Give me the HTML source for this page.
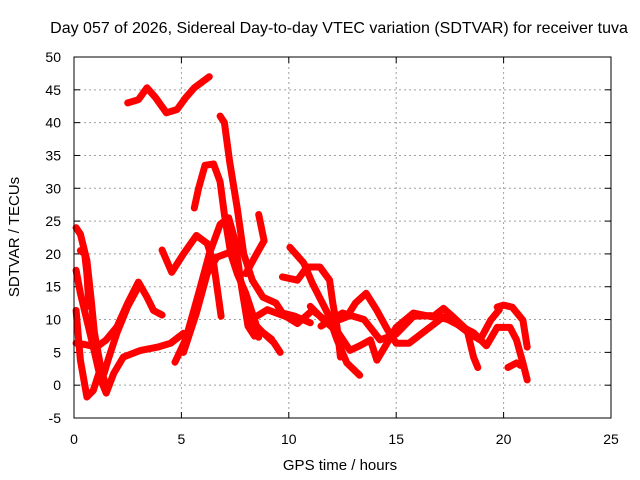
<!DOCTYPE html>
<html><head><meta charset="utf-8"><style>
html,body{margin:0;padding:0;background:#fff}
svg{display:block}
text{font-family:"Liberation Sans",sans-serif;font-size:14px;fill:#000}
</style></head><body>
<svg id="chart" width="640" height="480" viewBox="0 0 640 480">
<rect x="0" y="0" width="640" height="480" fill="#fff"/>
<text x="339" y="33" text-anchor="middle" style="font-size:16px">Day 057 of 2026, Sidereal Day-to-day VTEC variation (SDTVAR) for receiver tuva</text>
<text x="340" y="470" text-anchor="middle" style="font-size:15px">GPS time / hours</text>
<text x="0" y="0" text-anchor="middle" style="font-size:15px" transform="translate(19,237) rotate(-90)">SDTVAR / TECUs</text>
<g id="grid"></g>
<g id="axes"></g>
<g id="series"></g>
<rect x="74" y="57" width="537" height="361" fill="none" stroke="#000" stroke-width="1"/>
</svg>
<script>
const xTicks = [0, 5, 10, 15, 20, 25];
const yTicks = [-5, 0, 5, 10, 15, 20, 25, 30, 35, 40, 45, 50];
const track1 = [[2.5,43],[3.0,43.5],[3.4,45.3],[3.8,43.8],[4.3,41.5],[4.8,42],[5.2,43.8],[5.6,45.3],[6.3,47]];
const track2 = [[6.8,41],[7.0,40],[7.25,34],[7.6,27],[7.9,20],[8.3,16],[8.8,13.4],[9.4,12.5],[9.7,11],[10.3,10.5],[11,9.5]];
const track3 = [[5.6,27],[5.8,30],[6.1,33.5],[6.5,33.7],[6.8,31],[7.0,26],[7.3,20],[7.6,17],[8.0,14],[8.5,9],[8.8,8],[9.3,6.5],[9.6,5]];
const track4 = [[4.7,3.5],[5.2,7],[5.8,14],[6.3,20],[6.8,24.5],[7.2,25.5],[7.5,22],[7.8,15],[8.1,9],[8.4,7.5],[8.8,8],[9.2,7]];
const track5 = [[5.1,5],[5.7,11],[6.2,17],[6.65,19.5],[7.3,20.3],[7.8,15.5],[8.4,7.9],[8.6,7.3]];
const track6 = [[8.0,17],[8.5,20],[8.85,22],[8.6,26]];
const track7 = [[4.1,20.6],[4.55,17.2],[5.1,20],[5.7,22.8],[6.2,21.6],[6.5,18.6],[6.7,14],[6.85,10.5]];
const track8 = [[5.1,7.9],[4.5,6.4],[3.9,5.8],[3.1,5.3],[2.3,4.3],[1.85,1.8],[1.5,-1.2],[1.25,0.8],[0.9,5.8],[0.3,14],[0.1,17.5]];
const track9 = [[4.1,10.7],[3.7,11.4],[3.4,13.4],[3.0,15.7],[2.5,12.5],[2.0,8.9],[1.5,6.9],[1.05,5.8],[0.5,6.2],[0.1,6.4]];
const track10 = [[3.0,15],[2.5,12],[2.0,8],[1.6,4],[1.4,1.8]];
const track11 = [[0.1,24],[0.3,23],[0.6,19],[0.8,13],[0.95,8],[1.25,2.7],[1.5,-0.3]];
const track12 = [[0.1,11.4],[0.3,3.8],[0.6,-1.8],[0.9,-0.8],[1.25,2.7]];
const track13 = [[0.3,20.5],[0.5,20],[0.6,17],[0.7,12]];
const track14 = [[10.05,21],[10.7,18.6],[11.1,15.5],[11.8,11],[12.25,6.9],[12.7,3.4],[13.3,1.5]];
const track15 = [[9.7,16.5],[10.4,16],[10.85,18],[11.45,18],[11.9,16],[12.05,12.5],[12.25,8.8],[12.4,4.3]];
const track16 = [[8.5,10.5],[9.0,11.5],[9.9,10.4],[10.4,9.4],[11.1,11.4],[11.9,9.4],[12.7,10.4],[13.1,12.5],[13.6,14],[14.1,11.4],[14.6,8.4],[15.0,6.4],[15.6,6.4],[16.4,8.4],[17.2,10.4],[17.8,9.4],[18.4,7.9],[18.9,6.9],[19.4,9.9],[19.8,11.5]];
const track17 = [[11.0,12],[11.6,10],[12.3,8],[12.85,5.3],[13.3,6],[13.8,6.9],[14.1,3.8],[14.5,6],[15.0,8.8],[15.8,11],[16.7,10.4],[17.2,11.7],[17.65,10.4],[18.3,8.4],[18.6,4.3],[18.8,2.7]];
const track18 = [[11.5,9],[12.5,11],[13.5,10],[14.25,6.9],[15.0,7.8],[15.8,10.5],[16.6,10.6],[17.4,10],[18.0,9],[18.6,8],[19.2,6],[19.7,8.8]];
const track19 = [[19.7,11.9],[20.0,12.2],[20.4,11.9],[20.9,9.9],[21.1,5.8]];
const track20 = [[19.7,8.8],[20.3,8.8],[20.6,6.9],[20.9,3.4],[21.1,0.8]];
const track21 = [[20.2,2.7],[20.6,3.4],[20.8,3]];
const tracks = [track1,track2,track3,track4,track5,track6,track7,track8,track9,track10,track11,track12,track13,track14,track15,track16,track17,track18,track19,track20,track21];

const NS = "http://www.w3.org/2000/svg";
const X0 = 74, X1 = 611, Y0 = 418, Y1 = 57;
function xs(h){ return X0 + (h - 0) / 25 * (X1 - X0); }
function ys(v){ return Y0 - (v + 5) / 55 * (Y0 - Y1); }
const grid = document.getElementById('grid');
const axes = document.getElementById('axes');
const series = document.getElementById('series');

xTicks.forEach(t => {
  const x = xs(t);
  if (t > 0 && t < 25) {
    const g = document.createElementNS(NS, 'line');
    g.setAttribute('x1', x); g.setAttribute('x2', x); g.setAttribute('y1', Y1); g.setAttribute('y2', Y0);
    g.setAttribute('stroke', '#a0a0a0'); g.setAttribute('stroke-dasharray', '2,3');
    
    
    grid.appendChild(g);
  }
  [[Y0, Y0 - 6], [Y1, Y1 + 6]].forEach(p => {
    const tk = document.createElementNS(NS, 'line');
    tk.setAttribute('x1', x); tk.setAttribute('x2', x); tk.setAttribute('y1', p[0]); tk.setAttribute('y2', p[1]);
    tk.setAttribute('stroke', '#000');
    
    
    axes.appendChild(tk);
  });
  const lb = document.createElementNS(NS, 'text');
  lb.setAttribute('x', x); lb.setAttribute('y', Y0 + 26); lb.setAttribute('text-anchor', 'middle');
  lb.textContent = t;
  
  
  axes.appendChild(lb);
});
yTicks.forEach(t => {
  const y = ys(t);
  if (t > -5 && t < 50) {
    const g = document.createElementNS(NS, 'line');
    g.setAttribute('x1', X0); g.setAttribute('x2', X1); g.setAttribute('y1', y); g.setAttribute('y2', y);
    g.setAttribute('stroke', '#a0a0a0'); g.setAttribute('stroke-dasharray', '2,3');
    
    
    grid.appendChild(g);
  }
  [[X0, X0 + 6], [X1, X1 - 6]].forEach(p => {
    const tk = document.createElementNS(NS, 'line');
    tk.setAttribute('x1', p[0]); tk.setAttribute('x2', p[1]); tk.setAttribute('y1', y); tk.setAttribute('y2', y);
    tk.setAttribute('stroke', '#000');
    
    
    axes.appendChild(tk);
  });
  const lb = document.createElementNS(NS, 'text');
  lb.setAttribute('x', X0 - 13); lb.setAttribute('y', y + 5); lb.setAttribute('text-anchor', 'end');
  lb.textContent = t;
  
  
  axes.appendChild(lb);
});
tracks.forEach((tr, i) => {
  const pl = document.createElementNS(NS, 'polyline');
  pl.setAttribute('points', tr.map(p => xs(p[0]).toFixed(1) + ',' + ys(p[1]).toFixed(1)).join(' '));
  pl.setAttribute('fill', 'none'); pl.setAttribute('stroke', '#ff0000');
  pl.setAttribute('stroke-width', '7'); pl.setAttribute('stroke-linejoin', 'round'); pl.setAttribute('stroke-linecap', 'round');
  
  
  series.appendChild(pl);
});
</script>
</body></html>
